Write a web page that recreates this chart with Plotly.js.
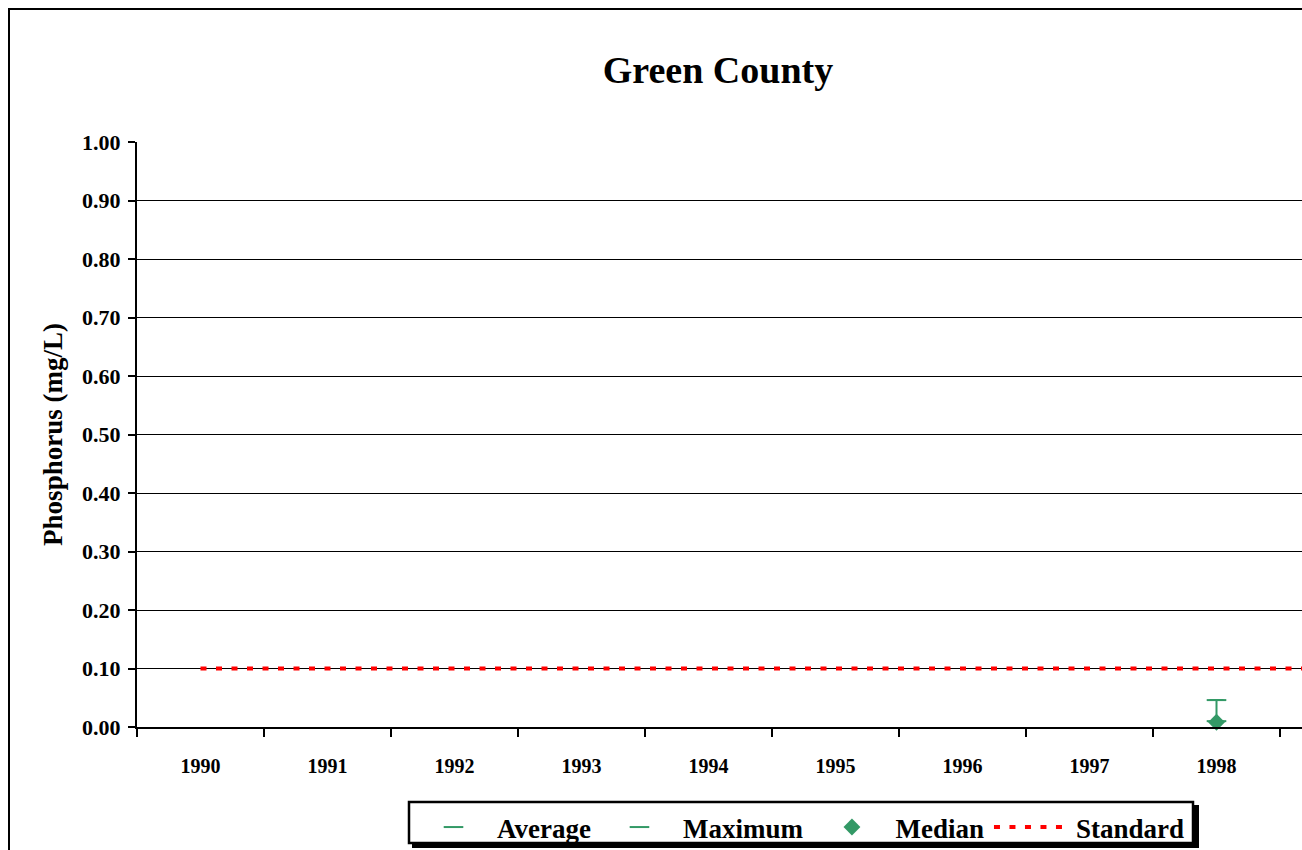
<!DOCTYPE html>
<html>
<head>
<meta charset="utf-8">
<script src="https://cdn.plot.ly/plotly-3.0.1.min.js"></script>
<style>
html,body{margin:0;padding:0;background:#fff;overflow:hidden;}
#chart{width:1302px;height:850px;}
</style>
</head>
<body>
<div id="chart"></div>
<script>
// ---- data ----
const years = ['1990','1991','1992','1993','1994','1995','1996','1997','1998'];
const standardYears = ['1990','1991','1992','1993','1994','1995','1996','1997','1998','1999'];
const average = [null,null,null,null,null,null,null,null,0.010];
const maximum = [null,null,null,null,null,null,null,null,0.046];
const median  = [null,null,null,null,null,null,null,null,0.008];
const standard = [0.1,0.1,0.1,0.1,0.1,0.1,0.1,0.1,0.1,0.1];
const titleText = 'Green County';
const yTitle = 'Phosphorus (mg/L)';

const green = '#339966';
const red = '#ff0000';
const FONT = 'Liberation Serif, Times New Roman, serif';

// error bar from average up to maximum
const errUp = average.map((a,i)=> (a==null||maximum[i]==null)?null:(maximum[i]-a));
const errDown = average.map(()=>0);

const traces = [
  {
    name:'Average', x: years, y: average, type:'scatter', mode:'markers',
    marker:{symbol:'line-ew', size:14, color:green, line:{color:green,width:2}},
    error_y:{type:'data', symmetric:false, array:errUp, arrayminus:errDown, color:green, thickness:2, width:7},
    cliponaxis:false
  },
  {
    name:'Maximum', x: years, y: maximum, type:'scatter', mode:'markers',
    marker:{symbol:'line-ew', size:14, color:green, line:{color:green,width:2}},
    cliponaxis:false
  },
  {
    name:'Median', x: years, y: median, type:'scatter', mode:'markers',
    marker:{symbol:'diamond', size:13, color:green},
    cliponaxis:false
  },
  {
    name:'Standard', x: standardYears, y: standard, type:'scatter', mode:'lines',
    line:{color:red, width:4, dash:'6px,9.5px'}
  }
];

// pixel helpers for paper coords (plot: left 137, right 1302, top 142, bottom 727)
const PL=137, PR=1302, PT=142, PB=727;
const px = v => (v-PL)/(PR-PL);
const py = v => (PB-v)/(PB-PT);

const layout = {
  width:1302, height:850,
  margin:{l:PL, r:1302-PR, t:PT, b:850-PB, pad:0, autoexpand:false},
  paper_bgcolor:'#fff', plot_bgcolor:'#fff',
  font:{family:FONT, color:'#000'},
  title:{text:titleText, font:{family:FONT, size:38, color:'#000', weight:'bold'},
         xref:'container', x:718/1302, xanchor:'center', yref:'container', y:1-70/850, yanchor:'middle'},
  showlegend:true,
  legend:{orientation:'h', x:px(410), xanchor:'left', y:py(803), yanchor:'top',
          bgcolor:'rgba(0,0,0,0)', borderwidth:0,
          font:{family:FONT, size:27, color:'#000', weight:'bold'},
          itemwidth:77, traceorder:'normal'},
  xaxis:{type:'category', categoryorder:'array', categoryarray:standardYears,
         range:[-0.5, -0.5 + (PR-PL)/127], tickson:'boundaries',
         ticks:'outside', ticklen:8, tickwidth:2, tickcolor:'#000',
         showline:true, linecolor:'#000', linewidth:2, showgrid:false, zeroline:false,
         tickfont:{family:FONT, size:20, color:'#000', weight:'bold'}, ticklabelstandoff:20,
         automargin:false, fixedrange:true},
  yaxis:{range:[0,1], dtick:0.1, tick0:0, tickformat:'.2f',
         ticks:'outside', ticklen:7, tickwidth:2, tickcolor:'#000',
         showline:true, linecolor:'#000', linewidth:2, showgrid:true, gridcolor:'#000', gridwidth:1,
         zeroline:false, ticklabelstandoff:3, automargin:false,
         tickfont:{family:FONT, size:22, color:'#000', weight:'bold'},
         title:{text:yTitle, font:{family:FONT, size:27, color:'#000', weight:'bold'}, standoff:12},
         fixedrange:true},
  shapes:[
    // outer chart border (clipped by page edge)
    {type:'rect', xref:'paper', yref:'paper', x0:px(9), x1:px(1500), y0:py(1000), y1:py(9),
     line:{color:'#000', width:2}, fillcolor:'rgba(0,0,0,0)', layer:'below'},
    // legend shadow
    {type:'rect', xref:'paper', yref:'paper', x0:px(412), x1:px(1199), y0:py(848), y1:py(805),
     line:{width:0}, fillcolor:'#000', layer:'above'},
    // legend box
    {type:'rect', xref:'paper', yref:'paper', x0:px(409), x1:px(1193), y0:py(843), y1:py(802),
     line:{color:'#000', width:2.5}, fillcolor:'#fff', layer:'above'}
  ]
};

Plotly.newPlot('chart', traces, layout, {displayModeBar:false, staticPlot:true});
</script>
</body>
</html>
